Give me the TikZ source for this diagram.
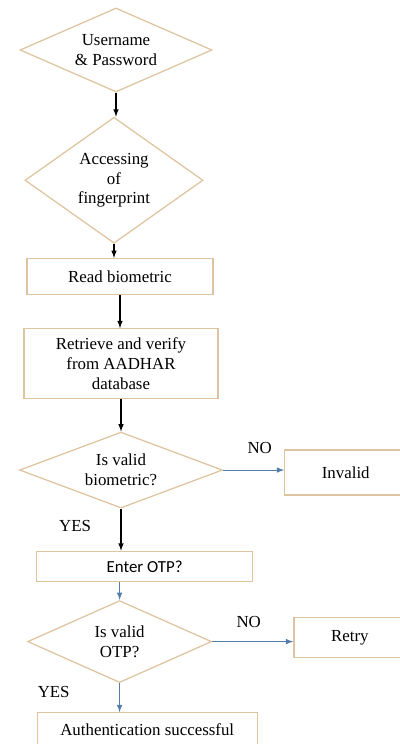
\documentclass[tikz,border=0pt]{standalone}
\usepackage{fontspec}
\setmainfont{Liberation Serif}
\newfontfamily\calibrifont{Carlito}
\usetikzlibrary{arrows,positioning,shapes}
\definecolor{tanline}{RGB}{222,196,160}
\definecolor{flowblue}{RGB}{84,126,170}
\tikzstyle{decision}=[diamond,draw=tanline,line width=0.9pt,inner sep=0pt,
shape aspect=2,align=center,font=\fontsize{12}{14}\selectfont]
\tikzstyle{process}=[rectangle,draw=tanline,line width=0.9pt,inner sep=2pt,
align=center,font=\fontsize{12}{14}\selectfont]
\tikzstyle{flowlabel}=[inner sep=1pt,text=black,font=\fontsize{12}{14}\selectfont]
\tikzstyle{blackarrow}=[-latex,line width=0.8pt,black]
\tikzstyle{bluearrow}=[-latex,line width=0.8pt,flowblue]

\begin{document}
\begin{tikzpicture}[>=stealth']
            \clip (0,0) rectangle (10,-18.6);
            \useasboundingbox (0,0) rectangle (10,-18.6);

            % LOGIN PART

            \node[decision,minimum width=4.8cm,minimum height=2.1cm] at (2.9,-1.25) (d1) {Username\\\& Password};
            \node[decision,below=0.6cm of d1,xshift=-0.05cm,
                  minimum width=4.45cm,minimum height=3.15cm,shape aspect=1.4] (d2) {Accessing\\of\\fingerprint};
            \node[process,below=0.35cm of d2,xshift=0.15cm,
                  minimum width=4.65cm,minimum height=0.9cm] (r1) {Read biometric};
            \node[process,below=0.825cm of r1,xshift=0.025cm,
                  minimum width=4.85cm,minimum height=1.75cm] (r2) {Retrieve and verify\\from AADHAR\\database};

            \path[blackarrow] (d1.south) edge node {} (d1.south |- d2.north);
            \path[blackarrow] (d2.south) edge node {} (d2.south |- r1.north);
            \path[blackarrow] (r1.south) edge node {} (r1.south |- r2.north);

            % BIOMETRIC PART

            \node[decision,below=0.8cm of r2,
                  minimum width=5.075cm,minimum height=1.9cm,shape aspect=2.3] (d3) {Is valid\\biometric?};
            \node[process,right=1.525cm of d3,yshift=-0.06cm,
                  minimum width=3.05cm,minimum height=1.125cm] (inv) {Invalid};

            \path[blackarrow] (r2.south) edge node {} (r2.south |- d3.north);
            \path[bluearrow] (d3.east) edge node[flowlabel,above=0.35cm,pos=0.6] {NO} (d3.east -| inv.west);

            % OTP PART

            \node[process,below=1.05cm of d3,xshift=0.59cm,
                  minimum width=5.4cm,minimum height=0.75cm,font=\calibrifont\fontsize{12}{14}\selectfont] (r3) {Enter OTP?};
            \node[decision,below=0.45cm of r3,xshift=-0.625cm,
                  minimum width=4.6cm,minimum height=2.05cm,shape aspect=1.6] (d4) {Is valid\\OTP?};
            \node[process,right=2.025cm of d4,yshift=0.1cm,
                  minimum width=2.8cm,minimum height=1cm] (retry) {Retry};
            \node[process,below=0.725cm of d4,xshift=0.69cm,
                  minimum width=5.5cm,minimum height=0.85cm] (auth) {Authentication successful};

            \path[blackarrow] (d3.south) edge node[flowlabel,left=0.7cm,pos=0.4] {YES} (d3.south |- r3.north);
            \path[bluearrow] (d4.north |- r3.south) edge node {} (d4.north);
            \path[bluearrow] (d4.east) edge node[flowlabel,above=0.3cm,pos=0.45] {NO} (d4.east -| retry.west);
            \path[bluearrow] (d4.south) edge node[flowlabel,left=1.2cm,pos=0.3] {YES} (d4.south |- auth.north);

        \end{tikzpicture}
\end{document}
